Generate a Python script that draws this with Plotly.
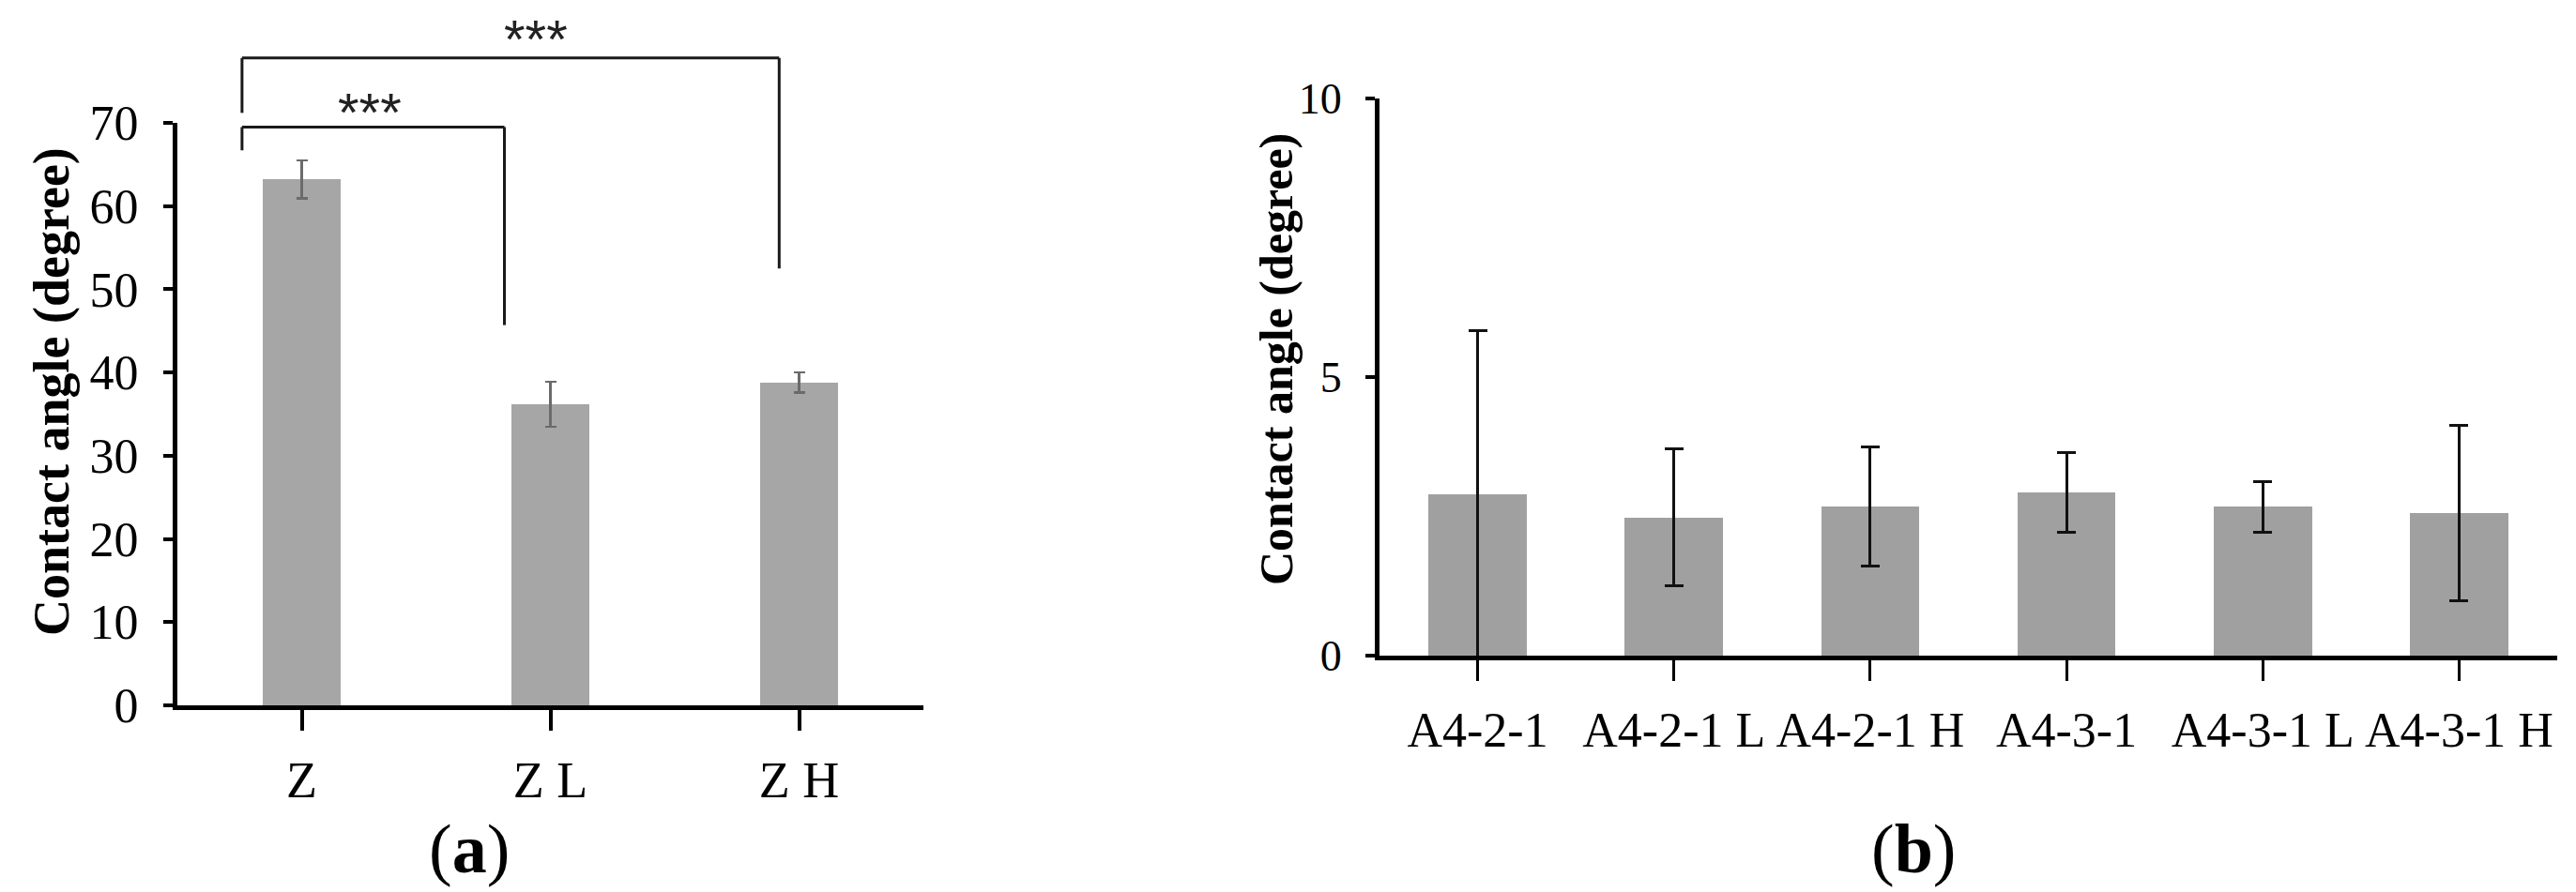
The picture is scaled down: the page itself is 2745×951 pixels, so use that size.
import plotly.graph_objects as go

# ---- panel (a) ----
groups_a = ["Z", "Z L", "Z H"]
angle_a = [63.2, 36.2, 38.8]
err_a = [2.3, 2.7, 1.2]

# significance brackets: left x, right x, bar level, left leg end, right leg end (degree)
bracket_x0 = [-0.24, -0.24]
bracket_x1 = [0.815, 1.92]
bracket_top = [69.5, 77.8]
bracket_left_end = [66.7, 71.2]
bracket_right_end = [45.7, 52.5]
star_x = [0.275, 0.94]
star_y = [71.9, 80.7]
star_text = ["***", "***"]

# ---- panel (b) ----
groups_b = ["A4-2-1", "A4-2-1 L", "A4-2-1 H", "A4-3-1", "A4-3-1 L", "A4-3-1 H"]
angle_b = [2.90, 2.48, 2.68, 2.93, 2.67, 2.56]
err_b = [2.93, 1.23, 1.07, 0.72, 0.45, 1.58]

W, H = 2745, 951
YMAX_A = 70
YMAX_B = 10
serif = "Liberation Serif, Times New Roman, serif"

fig = go.Figure()

fig.add_trace(go.Bar(
    x=groups_a, y=angle_a, width=0.31,
    marker=dict(color="#a6a6a6", line=dict(width=0)),
    error_y=dict(type="data", array=err_a, color="#6b6b6b", thickness=2.5, width=6),
    xaxis="x", yaxis="y", showlegend=False,
))

fig.add_trace(go.Bar(
    x=groups_b, y=angle_b, width=0.5,
    marker=dict(color="#a0a0a0", line=dict(width=0)),
    error_y=dict(type="data", array=err_b, color="#111111", thickness=3, width=10),
    xaxis="x2", yaxis="y2", showlegend=False,
))

# brackets drawn in x data units and y-domain units (level / axis max)
shapes = []
for x0, x1, top, le, re in zip(bracket_x0, bracket_x1, bracket_top, bracket_left_end, bracket_right_end):
    for (xa, ya, xb, yb) in [(x0, le, x0, top), (x0, top, x1, top), (x1, top, x1, re)]:
        shapes.append(dict(type="line", xref="x", yref="y domain",
                           x0=xa, y0=ya / YMAX_A, x1=xb, y1=yb / YMAX_A,
                           line=dict(color="#1a1a1a", width=3)))

annotations = []
for sx, sy, st in zip(star_x, star_y, star_text):
    annotations.append(dict(x=sx, y=sy / YMAX_A, xref="x", yref="y domain", text=st,
                            showarrow=False, xanchor="center", yanchor="middle", yshift=-5,
                            font=dict(family="Liberation Sans, Arial", size=58, color="#222222")))

# y-axis titles and panel labels
annotations += [
    dict(x=47 / W, y=1 - 410 / H, xref="paper", yref="paper", text="<b>Contact angle (degree)</b>",
         textangle=-90, showarrow=False, xanchor="center", yanchor="middle",
         font=dict(family=serif, size=54, color="black")),
    dict(x=1352 / W, y=1 - 375 / H, xref="paper", yref="paper", text="<b>Contact angle (degree)</b>",
         textangle=-90, showarrow=False, xanchor="center", yanchor="middle",
         font=dict(family=serif, size=50, color="black")),
    dict(x=492 / W, y=1 - 897 / H, xref="paper", yref="paper", text="(<b>a</b>)",
         showarrow=False, xanchor="center", yanchor="middle",
         font=dict(family=serif, size=74, color="black")),
    dict(x=2031 / W, y=1 - 897 / H, xref="paper", yref="paper", text="(<b>b</b>)",
         showarrow=False, xanchor="center", yanchor="middle",
         font=dict(family=serif, size=74, color="black")),
]

fig.update_layout(
    width=W, height=H,
    margin=dict(l=0, r=0, t=0, b=0),
    paper_bgcolor="white", plot_bgcolor="white",
    font=dict(family=serif, color="black"),
    xaxis=dict(domain=[181 / W, 976 / W], anchor="y", type="category",
               range=[-0.5, 2.5], showline=True, linecolor="black", linewidth=5,
               ticks="outside", ticklen=22, tickwidth=4, tickcolor="black",
               showgrid=False, zeroline=False, tickfont=dict(family=serif, size=54),
               ticklabelstandoff=6, automargin=False),
    yaxis=dict(domain=[1 - 744 / H, 1 - 123 / H], anchor="x",
               range=[0, YMAX_A], tickvals=list(range(0, 71, 10)),
               showline=True, linecolor="black", linewidth=5,
               ticks="outside", ticklen=10, tickwidth=4, tickcolor="black",
               showgrid=False, zeroline=False, tickfont=dict(family=serif, size=52),
               ticklabelstandoff=16, automargin=False),
    xaxis2=dict(domain=[1462 / W, 2717 / W], anchor="y2", type="category",
                range=[-0.5, 5.5], showline=True, linecolor="black", linewidth=5,
                ticks="outside", ticklen=22, tickwidth=3, tickcolor="black",
                showgrid=False, zeroline=False, tickfont=dict(family=serif, size=52),
                ticklabelstandoff=8, automargin=False),
    yaxis2=dict(domain=[1 - 691 / H, 1 - 97 / H], anchor="x2",
                range=[0, YMAX_B], tickvals=[0, 5, 10],
                showline=True, linecolor="black", linewidth=5,
                ticks="outside", ticklen=10, tickwidth=4, tickcolor="black",
                showgrid=False, zeroline=False, tickfont=dict(family=serif, size=46),
                ticklabelstandoff=16, automargin=False),
    shapes=shapes,
    annotations=annotations,
    bargap=0,
)

fig.write_html("out.html")
